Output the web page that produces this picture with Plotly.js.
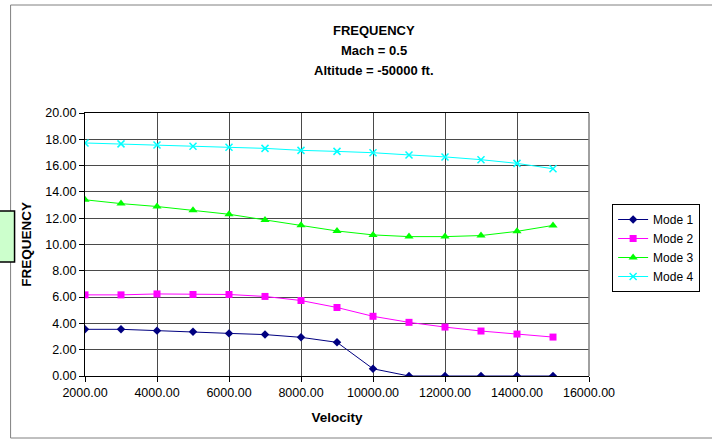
<!DOCTYPE html>
<html>
<head>
<meta charset="utf-8">
<script src="https://cdn.plot.ly/plotly-3.0.1.min.js"></script>
<style>
html,body{margin:0;padding:0;background:#fff;}
#chart{width:712px;height:440px;}
</style>
</head>
<body>
<div id="chart"></div>
<script>
const velocity = [2000, 3000, 4000, 5000, 6000, 7000, 8000, 9000, 10000, 11000, 12000, 13000, 14000, 15000];
const mode1 = [3.55, 3.55, 3.45, 3.37, 3.24, 3.15, 2.94, 2.56, 0.55, 0, 0, 0, 0, 0];
const mode2 = [6.17, 6.17, 6.24, 6.2, 6.2, 6.05, 5.74, 5.21, 4.54, 4.08, 3.72, 3.42, 3.19, 2.96];
const mode3 = [13.4, 13.11, 12.89, 12.61, 12.3, 11.87, 11.47, 11.03, 10.73, 10.6, 10.6, 10.68, 11.0, 11.45];
const mode4 = [17.72, 17.65, 17.57, 17.47, 17.39, 17.31, 17.16, 17.08, 16.98, 16.81, 16.66, 16.45, 16.17, 15.76];
const seriesNames = ["Mode 1", "Mode 2", "Mode 3", "Mode 4"];
const titleLines = ["FREQUENCY", "Mach = 0.5", "Altitude = -50000 ft."];
const xTitle = "Velocity";
const yTitle = "FREQUENCY";

const FONT = "Arial, 'Liberation Sans', sans-serif";
const colors = ["#000080", "#FF00FF", "#00FF00", "#00FFFF"];
const symbols = ["diamond", "square", "triangle-up", "x-thin-open"];
const sizes = [6.5, 7, 8, 7];
const data = [mode1, mode2, mode3, mode4].map((ys, i) => ({
  x: velocity, y: ys, name: seriesNames[i], type: "scatter", mode: "lines+markers",
  line: {color: colors[i], width: 1},
  marker: {color: colors[i], symbol: symbols[i], size: sizes[i], line: {color: colors[i], width: i === 3 ? 1.5 : 0}}
}));

// plot area in pixels: x 85..593, y 113..376
const L = 85, R = 593, T = 113, B = 376, W = 712, H = 440;
const px = v => (v - L) / (R - L);
const py = v => (B - v) / (B - T);

const annotations = titleLines.map((t, i) => ({
  text: "<b>" + t + "</b>", xref: "paper", yref: "paper",
  x: px(376), y: py(30 + i * 20), xanchor: "center", yanchor: "middle",
  showarrow: false, font: {family: FONT, size: 13, color: "#000"}
}));

const layout = {
  width: W, height: H,
  margin: {l: L, r: W - R, t: T, b: H - B, pad: 0},
  paper_bgcolor: "#fff", plot_bgcolor: "#fff",
  font: {family: FONT, size: 12, color: "#000"},
  showlegend: true,
  legend: {
    x: px(705), y: py(204), xanchor: "right", yanchor: "top",
    bordercolor: "#000", borderwidth: 1, bgcolor: "#fff",
    itemwidth: 30,
    font: {family: FONT, size: 12, color: "#000"}, tracegroupgap: 0
  },
  xaxis: {
    range: [2000, 16000], dtick: 2000, tick0: 2000, tickformat: ".2f",
    showgrid: true, gridcolor: "#4a4a4a", gridwidth: 1,
    showline: true, linecolor: "#000", linewidth: 1, mirror: true,
    ticks: "outside", ticklen: 5, tickcolor: "#000", zeroline: false,
    tickfont: {family: FONT, size: 12.5},
    title: {text: "<b>" + xTitle + "</b>", font: {family: FONT, size: 13.5}, standoff: 13},
    automargin: false
  },
  yaxis: {
    range: [0, 20], dtick: 2, tickformat: ".2f",
    showgrid: true, gridcolor: "#4a4a4a", gridwidth: 1,
    showline: true, linecolor: "#000", linewidth: 1, mirror: false,
    ticks: "outside", ticklen: 5, tickcolor: "#000", zeroline: false,
    tickfont: {family: FONT, size: 12.5},
    title: {text: "<b>" + yTitle + "</b>", font: {family: FONT, size: 13.5}, standoff: 10},
    automargin: false
  },
  annotations: annotations,
  shapes: [
    {type: "line", xref: "paper", yref: "paper", x0: 1, x1: 1, y0: 0, y1: 1,
     line: {color: "#808080", width: 1.5}, layer: "above"},
    {type: "rect", xref: "paper", yref: "paper", x0: px(10), x1: px(720), y0: py(438), y1: py(5),
     line: {color: "#808080", width: 1}, fillcolor: "rgba(0,0,0,0)", layer: "above"},
    {type: "rect", xref: "paper", yref: "paper", x0: px(-2), x1: px(14), y0: py(262), y1: py(211),
     line: {color: "#000", width: 1.5}, fillcolor: "#CCFFCC", layer: "above"}
  ]
};

Plotly.newPlot("chart", data, layout, {displayModeBar: false, staticPlot: true});
</script>
</body>
</html>
